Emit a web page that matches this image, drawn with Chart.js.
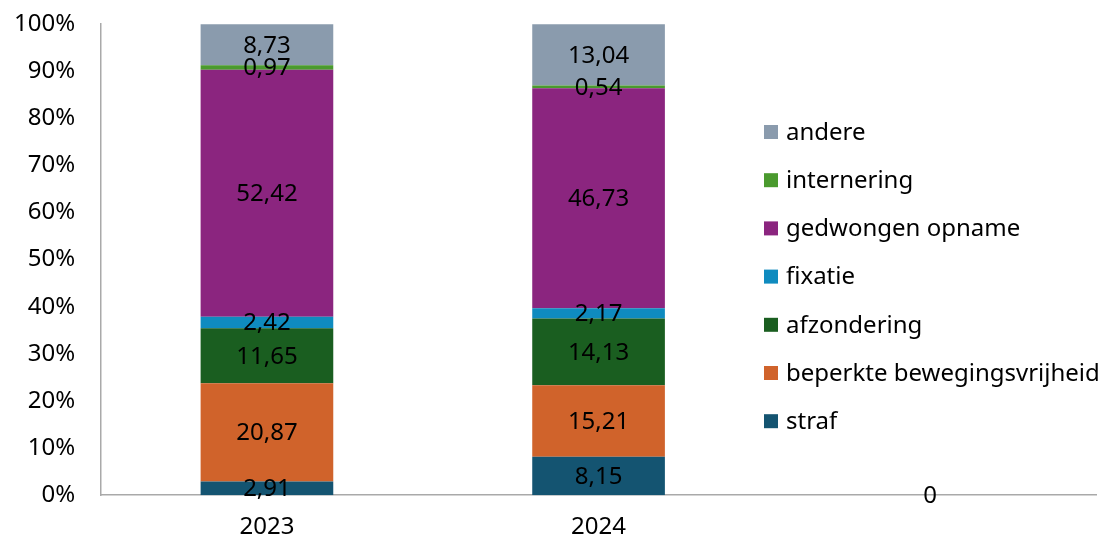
<!DOCTYPE html>
<html>
<head>
<meta charset="utf-8">
<script src="https://cdn.jsdelivr.net/npm/chart.js@4/dist/chart.umd.min.js"></script>
<style>
    html, body { margin: 0; padding: 0; background: #ffffff; }
    #wrap { width: 1102px; height: 540px; }
</style>
</head>
<body>
<div id="wrap"><canvas id="id_chart" width="1102" height="540"></canvas></div>
<script>
// jaren (derde kolom is leeg)
var CATEGORIES = ["2023", "2024", ""];

// aandelen per maatregel, in %
var STRAF         = [2.91, 8.15, 0];
var BEPERKT       = [20.87, 15.21, null];
var AFZONDERING   = [11.65, 14.13, null];
var FIXATIE       = [2.42, 2.17, null];
var GEDWONGEN     = [52.42, 46.73, null];
var INTERNERING   = [0.97, 0.54, null];
var ANDERE        = [8.73, 13.04, null];

var Y_TICKS = [0, 10, 20, 30, 40, 50, 60, 70, 80, 90, 100];

var FONT = "'Noto Sans', sans-serif";
var FONT_SIZE = 24;

var _makeSet = function( label, data, color ){
    return {
        "label" : label,
        "data" : data,
        "backgroundColor" : color,
        "borderWidth" : 0
    };
};

// waarden in de staven, decimale komma
var _labelPlugin = {
    id : "segmentLabels",
    afterDatasetsDraw : function( chart ){
        var ctx = chart.ctx;
        ctx.save();
        ctx.font = FONT_SIZE + "px " + FONT;
        ctx.fillStyle = "#000000";
        ctx.textAlign = "center";
        ctx.textBaseline = "middle";
        chart.data.datasets.forEach(function( ds, i ){
            var meta = chart.getDatasetMeta(i);
            meta.data.forEach(function( bar, j ){
                var v = ds.data[j];
                if( v === null || v === undefined ){ return; }
                var txt = (v === 0) ? "0" : v.toFixed(2).replace(".", ",");
                var cy = (bar.y + bar.base) / 2;
                ctx.fillText( txt, bar.x, cy + 1 );
            });
        });
        ctx.restore();
    }
};

// legenda rechts, boven het plotvlak, in omgekeerde volgorde
var _legendPlugin = {
    id : "sideLegend",
    afterDraw : function( chart ){
        var ctx = chart.ctx;
        var sets = chart.data.datasets;
        var x = 764, y0 = 132, step = 48.2, box = 14;
        ctx.save();
        ctx.font = FONT_SIZE + "px " + FONT;
        ctx.textAlign = "left";
        ctx.textBaseline = "middle";
        var n = sets.length, k = 0;
        while( 0 < n-- ){
            var cy = y0 + k * step;
            ctx.fillStyle = sets[n].backgroundColor;
            ctx.fillRect( x, cy - box / 2, box, box );
            ctx.fillStyle = "#000000";
            ctx.fillText( sets[n].label, x + 22, cy + 1 );
            k++;
        }
        ctx.restore();
    }
};

// geen extra ruimte voor de halve hoogte van de randlabels
var _noEdgePadding = function( scale ){
    scale.paddingTop = 0;
    scale.paddingBottom = 0;
};

var browserThis = this;
window.onload = function(){
    var ctx = browserThis.document.getElementById("id_chart").getContext("2d");
    new Chart(ctx, {
        "type" : "bar",
        "data" : {
            "labels" : CATEGORIES,
            "datasets" : [
                _makeSet("straf", STRAF, "#145471"),
                _makeSet("beperkte bewegingsvrijheid", BEPERKT, "#D0632B"),
                _makeSet("afzondering", AFZONDERING, "#1A5E20"),
                _makeSet("fixatie", FIXATIE, "#0F8BBF"),
                _makeSet("gedwongen opname", GEDWONGEN, "#8B257F"),
                _makeSet("internering", INTERNERING, "#4A9A2E"),
                _makeSet("andere", ANDERE, "#8A9BAD")
            ]
        },
        "options" : {
            "responsive" : false,
            "animation" : false,
            "datasets" : { "bar" : { "categoryPercentage" : 0.4, "barPercentage" : 1.0 } },
            // plotvlak ongeveer 99..1096 x 24..494
            "layout" : { "padding" : { "left" : -12, "right" : 6, "top" : 24, "bottom" : -20 } },
            "plugins" : {
                "legend" : { "display" : false },
                "tooltip" : { "enabled" : false }
            },
            "scales" : {
                "x" : {
                    "stacked" : true,
                    "grid" : { "display" : false, "drawTicks" : false },
                    "border" : { "display" : true, "color" : "#a9a9a9", "width" : 1.5 },
                    "ticks" : { "color" : "#000000", "padding" : 18, "font" : { "family" : FONT, "size" : FONT_SIZE } }
                },
                "y" : {
                    "stacked" : true,
                    "min" : 0,
                    "max" : 100,
                    "grid" : { "display" : false, "drawTicks" : false },
                    "border" : { "display" : true, "color" : "#a9a9a9", "width" : 1.5 },
                    "afterBuildTicks" : function( axis ){
                        axis.ticks = Y_TICKS.map(function(v){ return { "value" : v }; });
                    },
                    "afterFit" : _noEdgePadding,
                    "ticks" : {
                        "color" : "#000000",
                        "padding" : 26,
                        "font" : { "family" : FONT, "size" : FONT_SIZE },
                        "callback" : function( v ){ return v + "%"; }
                    }
                }
            }
        },
        "plugins" : [ _labelPlugin, _legendPlugin ]
    });
};
</script>
</body>
</html>
